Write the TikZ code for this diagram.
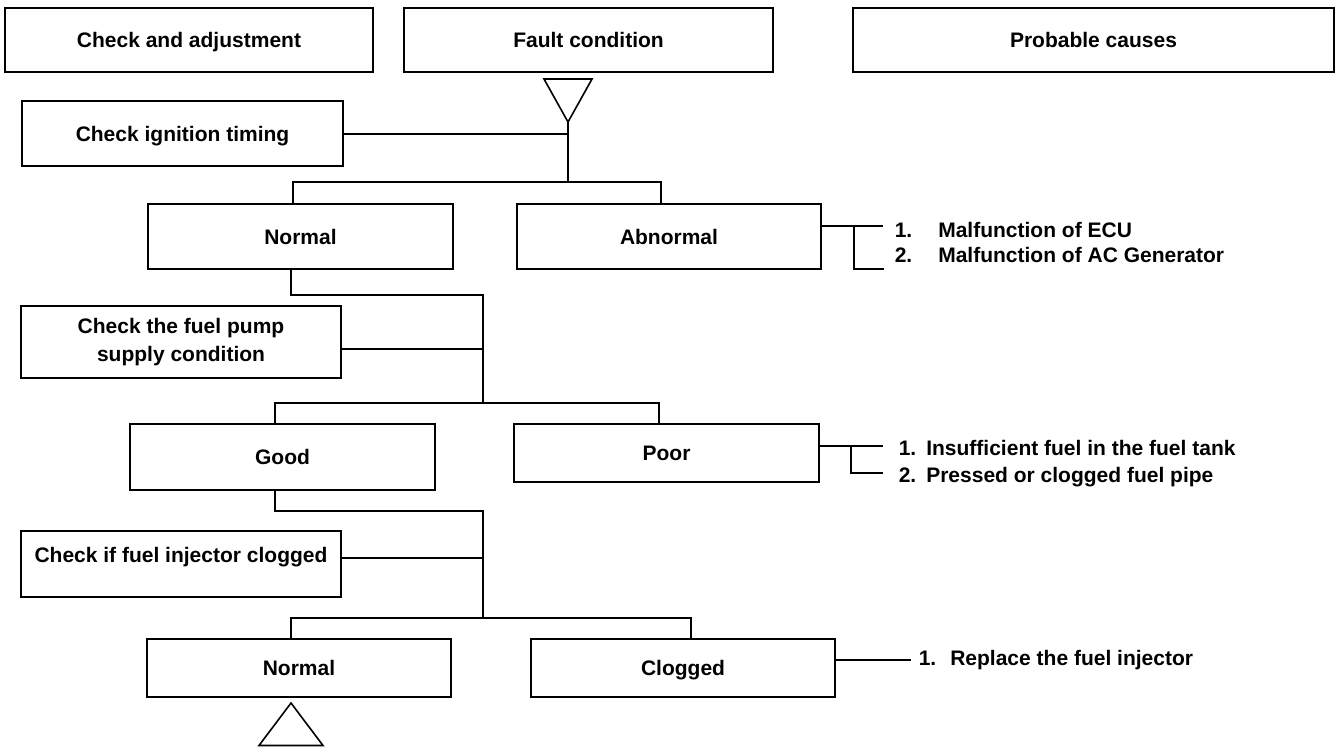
\documentclass[tikz,border=0pt]{standalone}
\usepackage{fontspec}
\setmainfont{Liberation Sans}

\begin{document}
\begin{tikzpicture}[x=1pt,y=-1pt,line width=1.6pt,
		font=\bfseries\fontsize{21}{28}\selectfont,
		flow box/.style={draw,inner sep=0pt,align=center},
		line box/.style={flow box,text height=15pt,text depth=0pt},
		cause/.style={anchor=base west,inner sep=0pt}
		]
		\useasboundingbox (0,0) rectangle (1338,747);
		
		% headings
		\node[line box,minimum width=368,minimum height=64] (head1) at (189,40) {Check and adjustment};
		\node[line box,minimum width=369,minimum height=64] (head2) at (588.5,40) {Fault condition};
		\node[line box,minimum width=481,minimum height=64] (head3) at (1093.5,40) {Probable causes};
		
		% checks and results
		\node[line box,minimum width=321,minimum height=65] (ignition) at (182.5,133.5) {Check ignition timing};
		\node[line box,minimum width=305,minimum height=65] (normalA) at (300.5,236.5) {Normal};
		\node[line box,minimum width=304,minimum height=65] (abnormal) at (669,236.5) {Abnormal};
		\node[flow box,minimum width=320,minimum height=72] (pump) at (181,342) {Check the fuel pump\\supply condition};
		\node[line box,minimum width=305,minimum height=66] (good) at (282.5,457) {Good};
		\node[line box,minimum width=305,minimum height=58] (poor) at (666.5,453) {Poor};
		\node[line box,minimum width=320,minimum height=66,text depth=18pt] (injector) at (181,564) {Check if fuel injector clogged};
		\node[line box,minimum width=304,minimum height=58] (normalB) at (299,668) {Normal};
		\node[line box,minimum width=304,minimum height=58] (clogged) at (683,668) {Clogged};
		
		% probable causes
		\node[cause] (ecu) at (894,237.5) {1.\hspace{26pt}Malfunction of ECU};
		\node[cause] (gen) at (894,262.5) {2.\hspace{26pt}Malfunction of AC Generator};
		\node[cause] (tank) at (898,455) {1.\hspace{10pt}Insufficient fuel in the fuel tank};
		\node[cause] (pipe) at (898,482.5) {2.\hspace{10pt}Pressed or clogged fuel pipe};
		\node[cause] (replace) at (918,665) {1.\hspace{14pt}Replace the fuel injector};
		
		% start and end marks
		\coordinate (start) at (568,122);
		\coordinate (finish) at (291,703);
		\draw (544,79) -- (592,79) -- (start) -- cycle;
		\draw (259,745.5) -- (323,745.5) -- (finish) -- cycle;
		
		% junctions
		\coordinate (j1) at (568,182);
		\coordinate (k2) at (483,295);
		\coordinate (j2) at (483,403);
		\coordinate (k3) at (483,511);
		\coordinate (j3) at (483,618);
		\coordinate (a1) at (883,226);
		\coordinate (a2) at (884,269);
		\coordinate (p1) at (883,446);
		\coordinate (p2) at (883,473);
		\coordinate (q1) at (911,660);
		
		\draw (start) -- (j1);
		\draw ([yshift=-0.5pt]ignition.east) -- ([yshift=-0.5pt]ignition.east -| j1);
		\draw ([xshift=-7.5pt]normalA.north) |- (j1) -| ([xshift=-8pt]abnormal.north);
		
		\draw ([xshift=-9.5pt]normalA.south) |- (k2) -- (j2);
		\draw ([yshift=-7pt]pump.east) -- ([yshift=-7pt]pump.east -| j2);
		\draw ([xshift=-7.5pt]good.north) |- (j2) -| ([xshift=-7.5pt]poor.north);
		
		\draw ([xshift=-7.5pt]good.south) |- (k3) -- (j3);
		\draw ([yshift=6pt]injector.east) -- ([yshift=6pt]injector.east -| j3);
		\draw ([xshift=-8pt]normalB.north) |- (j3) -| ([xshift=8pt]clogged.north);
		
		\draw ([yshift=10.5pt]abnormal.east) -- (a1);
		\draw ([xshift=32pt,yshift=10.5pt]abnormal.east) |- (a2);
		\draw ([yshift=7pt]poor.east) -- (p1);
		\draw ([xshift=31pt,yshift=7pt]poor.east) |- (p2);
		\draw ([yshift=8pt]clogged.east) -- (q1);
		
\end{tikzpicture}
\end{document}
